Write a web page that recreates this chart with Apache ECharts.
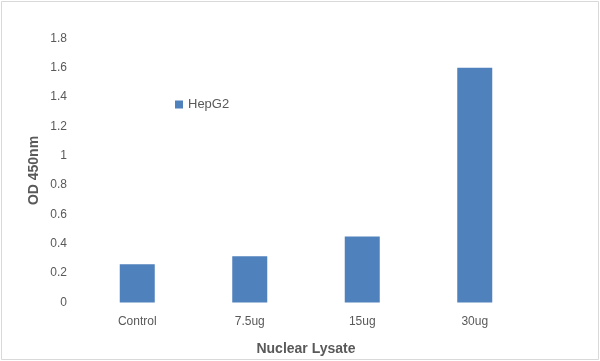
<!DOCTYPE html>
<html><head><meta charset="utf-8">
<script src="https://cdn.jsdelivr.net/npm/echarts@6/dist/echarts.min.js"></script>
<style>html,body{margin:0;padding:0;background:#fff}#c{width:600px;height:361px}</style>
</head><body><div id="c"></div>
<script>
const categories = ['Control', '7.5ug', '15ug', '30ug'];
const seriesName = 'HepG2';
const values = [0.26, 0.315, 0.45, 1.6];
const yTicks = [0, 0.2, 0.4, 0.6, 0.8, 1, 1.2, 1.4, 1.6, 1.8];
const xTitle = 'Nuclear Lysate';
const yTitle = 'OD 450nm';

const font = 'Liberation Sans';
const chart = echarts.init(document.getElementById('c'), null, {renderer: 'canvas'});
chart.setOption({
  backgroundColor: '#fff',
  animation: false,
  graphic: [{
    type: 'rect', shape: {x: 1.5, y: 1.5, width: 597, height: 358},
    style: {fill: 'none', stroke: '#d9d9d9', lineWidth: 1}
  }],
  legend: {
    left: 170, top: 93, itemWidth: 8, itemHeight: 8, itemGap: 4,
    icon: 'rect',
    textStyle: {color: '#595959', fontSize: 13, fontFamily: font},
    data: [seriesName]
  },
  grid: {left: 81, right: 69, top: 38.5, bottom: 58.5, outerBoundsMode: 'none', containLabel: false},
  xAxis: {
    type: 'category', data: categories,
    axisLine: {show: false}, axisTick: {show: false},
    axisLabel: {color: '#595959', fontSize: 12, fontFamily: font, margin: 13},
    name: xTitle, nameLocation: 'middle', nameGap: 40,
    nameTextStyle: {color: '#595959', fontSize: 14, fontWeight: 'bold', fontFamily: font}
  },
  yAxis: {
    type: 'value', min: yTicks[0], max: yTicks[yTicks.length - 1], interval: 0.2,
    axisLine: {show: false}, axisTick: {show: false}, splitLine: {show: false},
    axisLabel: {color: '#595959', fontSize: 12, fontFamily: font, margin: 14,
      formatter: v => String(Math.round(v * 10) / 10)},
    name: yTitle, nameLocation: 'middle', nameGap: 40, nameMoveOverlap: false,
    nameTextStyle: {color: '#595959', fontSize: 14, fontWeight: 'bold', fontFamily: font}
  },
  series: [{
    name: seriesName, type: 'bar', data: values, barWidth: 35,
    itemStyle: {color: '#4f81bd'}
  }]
});
</script></body></html>
